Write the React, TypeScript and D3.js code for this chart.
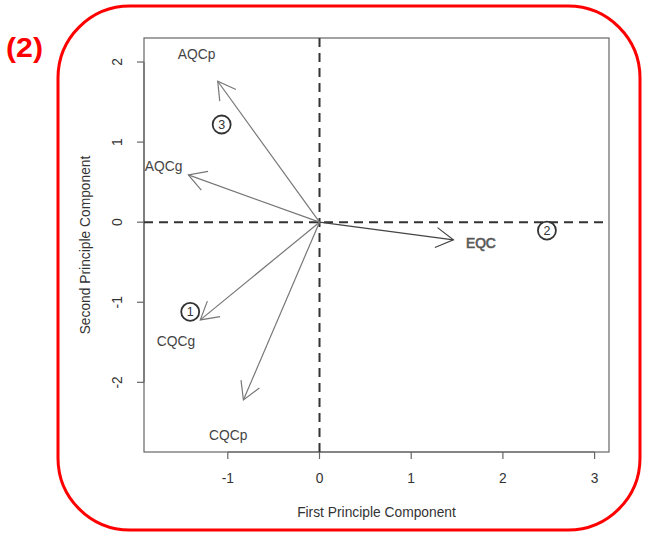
import React from "react";
import * as d3 from "d3";

const loadingNames = ["AQCp", "AQCg", "CQCg", "CQCp", "EQC"];
const loadingX = [-1.11, -1.43, -1.3, -0.83, 1.46];
const loadingY = [1.76, 0.59, -1.22, -2.22, -0.22];
const labelX = [-1.34, -1.7, -1.565, -0.995, 1.76];
const labelY = [2.09, 0.7, -1.49, -2.66, -0.27];

const clusterNames = ["1", "2", "3"];
const clusterX = [-1.41, 2.48, -1.067];
const clusterY = [-1.12, -0.105, 1.22];

const xTicks = [-1, 0, 1, 2, 3];
const yTicks = [-2, -1, 0, 1, 2];
const xDomain = [-1.914, 3.157];
const yDomain = [-2.87, 2.3];

const W = 646;
const H = 536;
const L = 144, R = 609, T = 38, B = 452;

export default function App() {
  const x = d3.scaleLinear().domain(xDomain).range([L, R]);
  const y = d3.scaleLinear().domain(yDomain).range([B, T]);
  const font = "'Liberation Sans', Arial, sans-serif";
  const axisColor = "#666";
  const x0 = x(0), y0 = y(0);
  const headLen = 20;
  const headAng = Math.PI / 6;
  const fs = 13.8;

  return (
    <svg width={W} height={H} style={{ position: "absolute", left: 0, top: 0 }} fontFamily={font}>
      <rect x={0} y={0} width={W} height={H} fill="#fff" />
      {/* red rounded frame */}
      <rect x={58} y={6} width={582} height={524} rx={72} ry={72} fill="none" stroke="#f00" strokeWidth={3} />
      <text x={6} y={57} fontSize={27} fontWeight="bold" fill="#f00" textLength={37} lengthAdjust="spacingAndGlyphs">(2)</text>

      {/* plot box */}
      <rect x={L} y={T} width={R - L} height={B - T} fill="none" stroke={axisColor} strokeWidth={1.2} />

      {/* x axis */}
      <line x1={x(xTicks[0])} x2={x(xTicks[xTicks.length - 1])} y1={B} y2={B} stroke={axisColor} strokeWidth={1.2} />
      {xTicks.map((t) => (
        <g key={"xt" + t}>
          <line x1={x(t)} x2={x(t)} y1={B} y2={B + 7} stroke={axisColor} strokeWidth={1.2} />
          <text x={x(t)} y={478} fontSize={fs} fill="#333" textAnchor="middle" dominantBaseline="central">{t}</text>
        </g>
      ))}
      <text x={(L + R) / 2} y={512} fontSize={fs} fill="#333" textAnchor="middle" dominantBaseline="central">First Principle Component</text>

      {/* y axis */}
      <line x1={L} x2={L} y1={y(yTicks[0])} y2={y(yTicks[yTicks.length - 1])} stroke={axisColor} strokeWidth={1.2} />
      {yTicks.map((t) => (
        <g key={"yt" + t}>
          <line x1={L - 7} x2={L} y1={y(t)} y2={y(t)} stroke={axisColor} strokeWidth={1.2} />
          <text x={118} y={y(t)} fontSize={fs} fill="#333" textAnchor="middle" dominantBaseline="central" transform={`rotate(-90 118 ${y(t)})`}>{t}</text>
        </g>
      ))}
      <text x={85} y={(T + B) / 2} fontSize={fs} fill="#333" textAnchor="middle" dominantBaseline="central" transform={`rotate(-90 85 ${(T + B) / 2})`}>Second Principle Component</text>

      {/* dashed reference lines */}
      <line x1={L} x2={R} y1={y0} y2={y0} stroke="#333" strokeWidth={2} strokeDasharray="9 6" />
      <line x1={x0} x2={x0} y1={T} y2={B} stroke="#333" strokeWidth={2} strokeDasharray="9 6" />

      {/* loading arrows */}
      {loadingNames.map((n, i) => {
        const tx = x(loadingX[i]);
        const ty = y(loadingY[i]);
        const a = Math.atan2(ty - y0, tx - x0);
        const h1x = tx - headLen * Math.cos(a - headAng);
        const h1y = ty - headLen * Math.sin(a - headAng);
        const h2x = tx - headLen * Math.cos(a + headAng);
        const h2y = ty - headLen * Math.sin(a + headAng);
        const col = n === "EQC" ? "#444" : "#777";
        return (
          <g key={n}>
            <line x1={x0} y1={y0} x2={tx} y2={ty} stroke={col} strokeWidth={1.2} />
            <polyline points={`${h1x},${h1y} ${tx},${ty} ${h2x},${h2y}`} fill="none" stroke={col} strokeWidth={1.2} />
          </g>
        );
      })}
      {loadingNames.map((n, i) => (
        <text
          key={"l" + n}
          x={x(labelX[i])}
          y={y(labelY[i])}
          fontSize={fs}
          fill="#444"
          stroke={n === "EQC" ? "#666" : "none"}
          strokeWidth={n === "EQC" ? 0.7 : 0}
          textAnchor="middle"
          dominantBaseline="central"
        >
          {n}
        </text>
      ))}

      {/* cluster markers */}
      {clusterNames.map((c, i) => (
        <g key={"c" + c}>
          <circle cx={x(clusterX[i])} cy={y(clusterY[i])} r={9} fill="none" stroke="#333" strokeWidth={1.8} />
          <text x={x(clusterX[i])} y={y(clusterY[i]) + 0.5} fontSize={12.5} fill="#333" textAnchor="middle" dominantBaseline="central">{c}</text>
        </g>
      ))}
    </svg>
  );
}
